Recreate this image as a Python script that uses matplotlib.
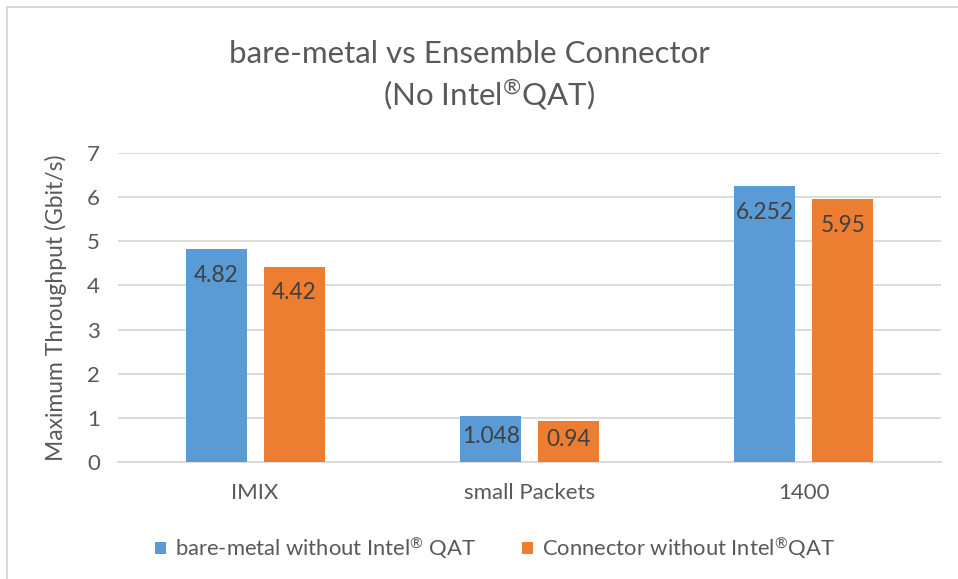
import matplotlib
matplotlib.use("Agg")
import matplotlib.pyplot as plt
import numpy as np
from matplotlib.lines import Line2D
from matplotlib.patches import Patch

plt.rcParams['font.family'] = ['Lato', 'DejaVu Sans']
plt.rcParams['mathtext.fontset'] = 'custom'
plt.rcParams['mathtext.rm'] = 'Lato'
plt.rcParams['mathtext.it'] = 'Lato'
plt.rcParams['mathtext.bf'] = 'Lato'

categories = ["IMIX", "small Packets", "1400"]
series_names = ["bare-metal without Intel$^{\\mathrm{\u00ae}}$ QAT",
                "Connector without Intel$^{\\mathrm{\u00ae}}$QAT"]
bare_metal = [4.82, 1.048, 6.252]
connector = [4.42, 0.94, 5.95]
value_labels_bm = ["4.82", "1.048", "6.252"]
value_labels_cn = ["4.42", "0.94", "5.95"]
yticks = [0, 1, 2, 3, 4, 5, 6, 7]
title_line1 = "bare-metal vs Ensemble Connector"
title_line2 = "(No Intel$^{\\mathrm{\u00ae}}$QAT)"

colors = ["#5B9BD5", "#ED7D31"]
text_col = "#595959"
grid_col = "#D9D9D9"

W, H = 958, 579
fig = plt.figure(figsize=(W / 100, H / 100), dpi=100)
ax = fig.add_axes([118 / W, (H - 462) / H, (941 - 118) / W, (462 - 153) / H])

x = np.arange(len(categories))
bw = 0.222
off = 0.142
b1 = ax.bar(x - off, bare_metal, bw, color=colors[0], zorder=3)
b2 = ax.bar(x + off, connector, bw, color=colors[1], zorder=3)

ax.set_xlim(-0.5, len(categories) - 0.5)
ax.set_ylim(0, 7)
ax.set_yticks(yticks)
ax.set_xticks(x)
ax.set_xticklabels(categories)
ax.yaxis.grid(True, color=grid_col, linewidth=1.3, zorder=0)
ax.set_axisbelow(True)
for s in ["top", "right", "left"]:
    ax.spines[s].set_visible(False)
ax.spines["bottom"].set_color(grid_col)
ax.spines["bottom"].set_linewidth(1.3)
ax.tick_params(axis="both", length=0, labelsize=16, labelcolor=text_col)
ax.tick_params(axis="y", pad=13)
ax.tick_params(axis="x", pad=15)
ax.set_ylabel("Maximum Throughput (Gbit/s)", fontsize=16.5, color=text_col, labelpad=14)

px_per_unit = (462 - 153) / 7.0
for bars, labs in ((b1, value_labels_bm), (b2, value_labels_cn)):
    for rect, lab in zip(bars, labs):
        h = rect.get_height()
        hpx = h * px_per_unit
        d = min(26.0, hpx * 0.45)
        ax.annotate(lab, (rect.get_x() + rect.get_width() / 2, h),
                    xytext=(0, -d * 72 / 100), textcoords="offset points",
                    ha="center", va="center", fontsize=16.3, color="#404040", zorder=4)

# title
fig.text(469 / W, 1 - 63 / H, title_line1, ha="center", va="baseline",
         fontsize=22.5, color=text_col)
fig.text(489 / W, 1 - 105 / H, title_line2, ha="center", va="baseline",
         fontsize=22.5, color=text_col)

# legend
handles = [Patch(facecolor=colors[0]), Patch(facecolor=colors[1])]
leg = fig.legend(handles, series_names, loc="center", bbox_to_anchor=(495 / W, 1 - 548 / H),
                 ncol=2, frameon=False, fontsize=15.8, handlelength=0.5, handleheight=0.5,
                 handletextpad=0.4, columnspacing=2.1)
for t in leg.get_texts():
    t.set_color(text_col)

# chart border (top and left visible)
fig.add_artist(Line2D([7 / W, 7 / W], [0, 1 - 7 / H], color=grid_col, linewidth=1.5))
fig.add_artist(Line2D([7 / W, 1], [1 - 7 / H, 1 - 7 / H], color=grid_col, linewidth=1.5))

fig.savefig("out.png", dpi=100)
